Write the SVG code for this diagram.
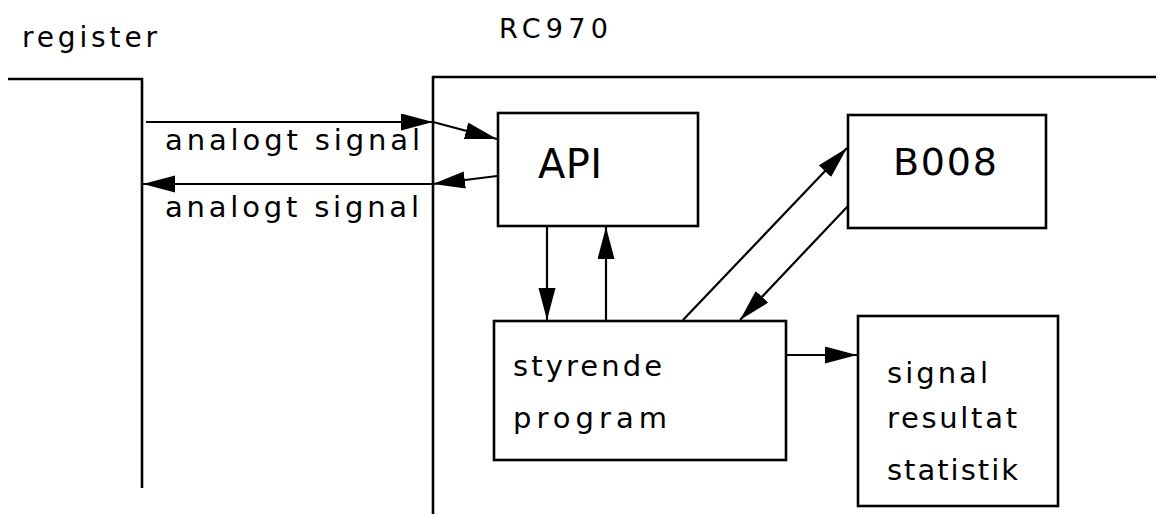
<svg xmlns="http://www.w3.org/2000/svg" width="1158" height="514" viewBox="0 0 1158 514">
<style>
.frame{fill:none;stroke:#000;stroke-width:2.6;stroke-linejoin:miter}
.box{fill:#fff;stroke:#000;stroke-width:2.6}
.conn{fill:none;stroke:#000;stroke-width:2.2}
text{font-family:"DejaVu Sans","Liberation Sans",sans-serif;fill:#000}
.lbl{font-size:29px}
.big{font-size:40px}
.ttl{font-size:28px}
</style>
<defs>
<marker id="ah" markerUnits="userSpaceOnUse" markerWidth="34" markerHeight="18" refX="32" refY="8.5" orient="auto">
<path d="M0,0 L32,8.5 L0,17 Z" fill="#000"/>
</marker>
</defs>
<rect width="1158" height="514" fill="#fff"/>
<g id="register">
<polyline class="frame" points="8,79 142,79 142,488"/>
<text class="ttl" x="22" y="47" textLength="135" lengthAdjust="spacing">register</text>
</g>
<g id="rc970">
<polyline class="frame" points="1156,77 433,77 433,514"/>
<text x="499" y="38" style="font-size:27px" textLength="109" lengthAdjust="spacing">RC970</text>
</g>
<g id="api">
<rect class="box" x="498" y="113" width="200" height="113"/>
<text class="big" x="538" y="178" textLength="64" lengthAdjust="spacing">API</text>
</g>
<g id="b008">
<rect class="box" x="848" y="115" width="198" height="113"/>
<text x="893" y="175" style="font-size:38px" textLength="104" lengthAdjust="spacing">B008</text>
</g>
<g id="program">
<rect class="box" x="494" y="321" width="292" height="139"/>
<text class="lbl" x="513" y="376" textLength="149" lengthAdjust="spacing">styrende</text>
<text class="lbl" x="513" y="428" textLength="154" lengthAdjust="spacing">program</text>
</g>
<g id="statistik">
<rect class="box" x="858" y="316" width="200" height="190"/>
<text class="lbl" x="887" y="383" textLength="101" lengthAdjust="spacing">signal</text>
<text class="lbl" x="887" y="428" textLength="130" lengthAdjust="spacing">resultat</text>
<text class="lbl" x="887" y="480" textLength="131" lengthAdjust="spacing">statistik</text>
</g>
<g id="connectors">
<line class="conn" x1="146" y1="122" x2="433" y2="122" marker-end="url(#ah)"/>
<line class="conn" x1="433" y1="122" x2="497" y2="139" marker-end="url(#ah)"/>
<line class="conn" x1="497" y1="176" x2="433" y2="184" marker-end="url(#ah)"/>
<line class="conn" x1="433" y1="184" x2="143" y2="184" marker-end="url(#ah)"/>
<line class="conn" x1="547" y1="226" x2="547" y2="320" marker-end="url(#ah)"/>
<line class="conn" x1="606" y1="320" x2="606" y2="227" marker-end="url(#ah)"/>
<line class="conn" x1="683" y1="320" x2="847" y2="148" marker-end="url(#ah)"/>
<line class="conn" x1="848" y1="206" x2="740" y2="320" marker-end="url(#ah)"/>
<line class="conn" x1="786" y1="355" x2="857" y2="355" marker-end="url(#ah)"/>
<text class="lbl" x="165" y="150" textLength="255" lengthAdjust="spacing">analogt signal</text>
<text class="lbl" x="165" y="217" textLength="254" lengthAdjust="spacing">analogt signal</text>
</g>
</svg>
